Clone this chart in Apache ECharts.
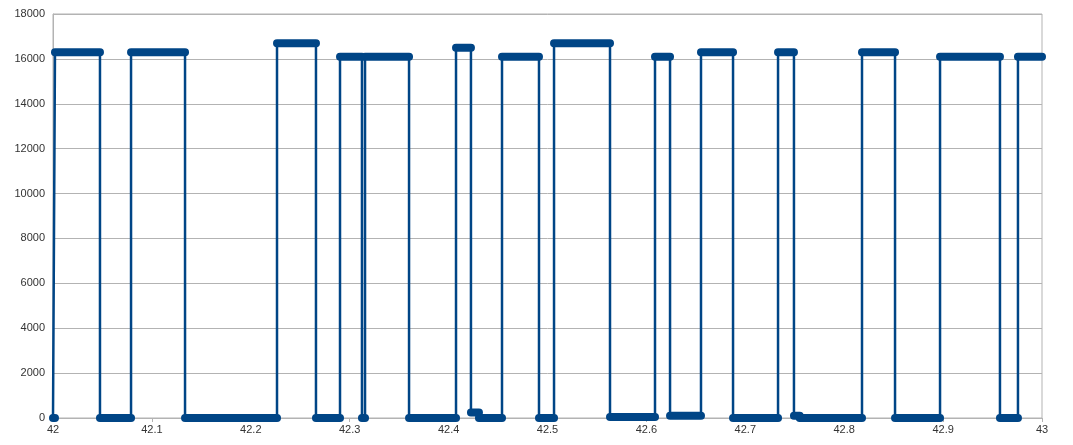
<!DOCTYPE html>
<html><head><meta charset="utf-8">
<script src="https://cdn.jsdelivr.net/npm/echarts@6/dist/echarts.min.js"></script>
<style>html,body{margin:0;padding:0;background:#fff}#c{width:1073px;height:445px}</style>
</head><body><div id="c"></div>
<script>
const boundaries = [42.0,42.002,42.0475,42.0789,42.1335,42.2265,42.2659,42.2902,42.3124,42.3155,42.36,42.4075,42.4226,42.4307,42.454,42.4914,42.5066,42.5632,42.6087,42.6239,42.6552,42.6876,42.7331,42.7492,42.755,42.818,42.8514,42.8969,42.9575,42.9757,43.0];
const levels = [0,16300,0,16300,0,16700,0,16100,0,16100,0,16500,250,0,16100,0,16700,50,16100,100,16300,0,16300,100,0,16300,0,16100,0,16100];
const yTicks = [0,2000,4000,6000,8000,10000,12000,14000,16000,18000];

const thin = [], thick = [];
for (let i = 0; i < levels.length; i++) {
  thin.push([boundaries[i], levels[i]], [boundaries[i+1], levels[i]]);
  thick.push([boundaries[i], levels[i]], [boundaries[i+1], levels[i]], [boundaries[i+1], null]);
}
const color = '#004586';
const chart = echarts.init(document.getElementById('c'));
chart.setOption({
  animation: false,
  grid: {left: 53, right: 31, top: 14, bottom: 27, show: true, borderColor: '#b3b3b3', borderWidth: 1},
  xAxis: {type: 'value', min: 42, max: 43, interval: 0.1,
    axisLine: {lineStyle: {color: '#b3b3b3'}}, axisTick: {show: true, length: 4, lineStyle: {color: '#b3b3b3'}},
    splitLine: {show: false},
    axisLabel: {color: '#333', fontSize: 11, fontFamily: 'Liberation Sans', margin: 6,
      formatter: v => String(Math.round(v * 10) / 10)}},
  yAxis: {type: 'value', min: yTicks[0], max: yTicks[yTicks.length-1], interval: 2000,
    axisLine: {show: true, lineStyle: {color: '#b3b3b3'}}, axisTick: {show: false},
    splitLine: {lineStyle: {color: '#b3b3b3'}},
    axisLabel: {color: '#333', fontSize: 11, fontFamily: 'Liberation Sans', margin: 8,
      formatter: v => String(v)}},
  series: [
    {type: 'line', data: thin, showSymbol: false, lineStyle: {color: color, width: 2.5}},
    {type: 'line', data: thick, showSymbol: false, connectNulls: false, lineStyle: {color: color, width: 8, cap: 'round'}}
  ]
});
</script></body></html>
